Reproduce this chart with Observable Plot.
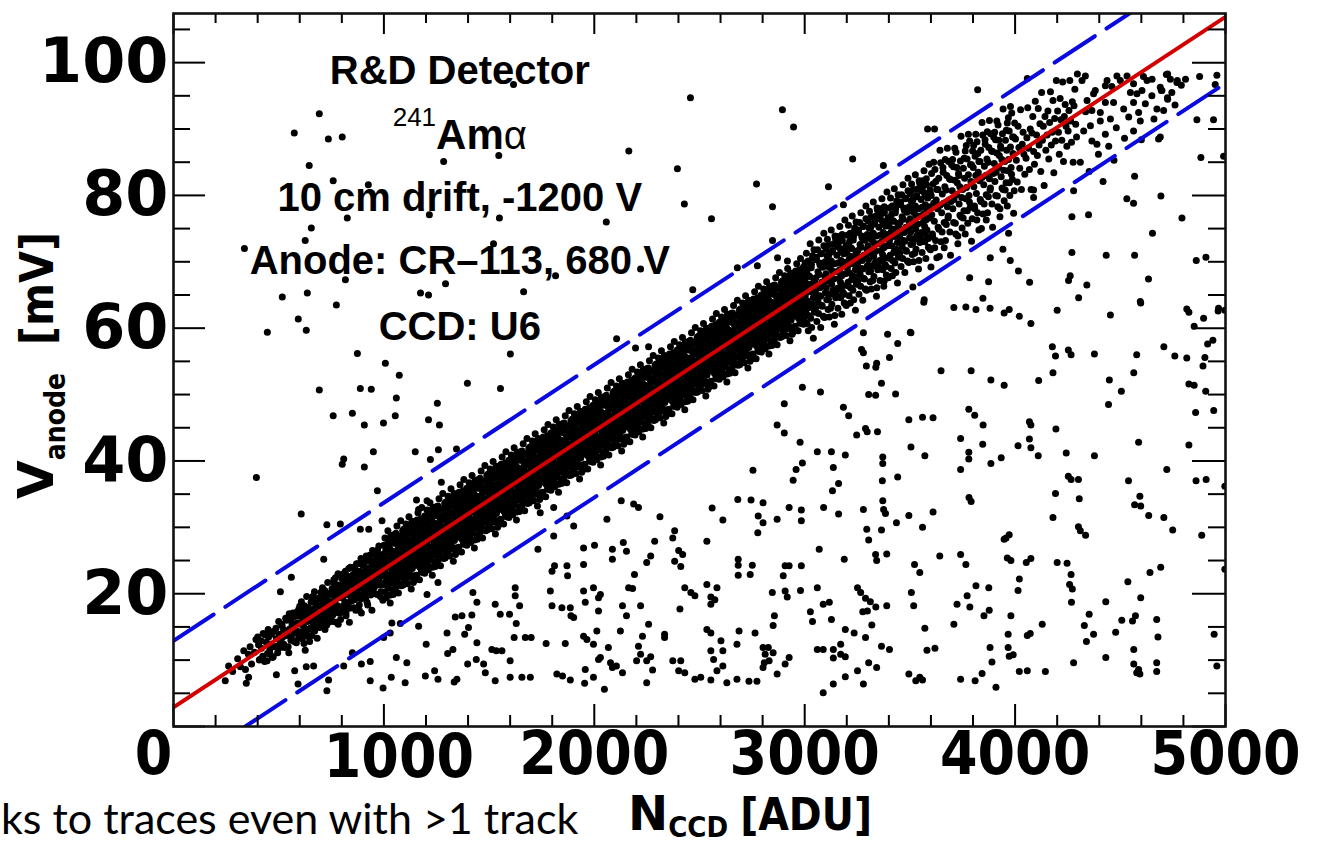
<!DOCTYPE html>
<html><head><meta charset="utf-8">
<script src="https://cdn.jsdelivr.net/npm/d3@7"></script>
<script src="https://cdn.jsdelivr.net/npm/@observablehq/plot@0.6"></script>
<style>
html,body{margin:0;padding:0;background:#fff;overflow:hidden;}
#chart{position:relative;width:1318px;height:845px;}
</style></head><body><div id="chart"></div>
<script>
// ---- data ----
const xTickValues = [0, 1000, 2000, 3000, 4000, 5000];
const yTickValues = [20, 40, 60, 80, 100];
const fit = {intercept: 2.9, slope: 0.0208, halfWidth: 10};
const annotationText = ["R&D Detector", "241", "Am", "\u03b1", "10 cm drift, -1200 V", "Anode: CR\u2013113, 680 V", "CCD: U6"];
const xTitle = ["N", "CCD", "[ADU]"];
const yTitle = ["V", "anode", "[mV]"];
const slideText = "ks to traces even with >1 track";

// main band of events (N_CCD [ADU], V_anode [mV])
const bandLow = [
[262,9.1],[281,8.3],[305,10.2],[318,9.0],[334,11.4],[342,8.6],[356,10.9],[364,12.0],[371,9.4],[385,11.2],[392,13.1],[404,12.3],[410,10.1],[418,11.8],[426,14.0],[433,9.8],[441,12.7],[447,11.0],[452,13.5],[458,11.6],[463,12.4],[470,10.4],[476,14.3],[482,12.0],[489,13.2],[495,11.1],
[503,13.9],[508,12.8],[513,15.4],[518,13.4],[523,14.6],[528,11.9],[533,16.3],[538,13.7],[543,14.4],[548,11.1],
[552,14.7],[556,16.0],[560,13.4],[564,15.4],[568,17.1],[572,14.1],[576,14.8],[580,16.6],[584,12.6],[588,15.6],[592,14.3],[596,17.7],
[601,16.6],[605,15.4],[608,14.2],[612,17.3],[615,16.1],[619,15.0],[622,18.2],[626,13.8],[629,16.3],[633,17.0],[636,15.8],[640,14.6],[643,17.7],[647,12.8],
[651,16.1],[654,17.3],[658,18.9],[661,16.7],[664,15.5],[668,17.7],[671,14.4],[674,17.5],[678,18.4],[681,16.5],[684,15.8],[688,19.3],[691,16.9],[694,14.9],[698,18.2],
[701,18.1],[704,17.0],[707,19.6],[710,17.6],[713,18.8],[716,16.1],[719,20.5],[722,17.9],[725,18.6],[728,15.3],[731,19.2],[734,17.3],[737,18.4],[740,20.0],[743,16.5],[746,17.7],
[751,18.7],[754,20.6],[757,16.8],[760,19.7],[762,22.1],[765,17.9],[768,18.9],[771,21.4],[774,15.7],[777,20.0],[779,18.2],[782,23.0],[785,17.1],[788,19.4],[791,20.9],[794,16.1],[797,19.8],
[801,21.1],[804,19.4],[806,17.7],[809,22.1],[812,20.4],[814,18.8],[817,23.4],[820,17.1],[822,20.7],[825,21.6],[828,19.9],[830,18.3],[833,22.6],[836,15.7],[838,20.2],[841,24.0],[844,19.2],[847,21.3],
[851,20.0],[853,21.6],[856,24.0],[858,20.8],[861,19.1],[863,22.3],[866,17.5],[868,22.0],[871,23.3],[873,20.5],[876,19.5],[878,24.5],[881,21.1],[883,18.3],[886,22.9],[888,21.0],[891,25.3],[893,17.1],[896,21.8],
[901,22.3],[903,20.7],[906,24.4],[908,21.5],[911,23.2],[913,19.4],[916,25.7],[918,21.9],[921,23.0],[923,18.3],[926,23.8],[928,21.1],[931,22.6],[933,24.9],[936,20.0],[938,21.7],[941,23.5],[943,17.5],[946,26.5],[948,20.4],
[951,22.9],[953,24.8],[955,21.0],[958,23.9],[960,26.3],[962,22.1],[965,23.1],[967,25.6],[969,19.9],[972,24.2],[974,22.4],[976,27.2],[979,21.3],[981,23.6],[983,25.1],[986,20.3],[988,24.0],[990,22.7],[993,25.9],[995,19.0],[998,24.5]
];
const bandMid = [
[1002,25.2],[1004,23.5],[1007,21.8],[1009,26.2],[1011,24.5],[1013,22.9],[1016,27.5],[1018,21.2],[1020,24.8],[1022,25.7],[1025,24.0],[1027,22.4],[1029,26.7],[1031,19.8],[1034,24.3],[1036,28.1],[1038,23.3],[1040,25.4],[1043,21.6],[1045,25.0],[1047,23.8],[1049,28.9],
[1051,24.2],[1053,25.8],[1056,28.2],[1058,25.0],[1060,23.3],[1064,26.5],[1065,21.7],[1067,26.2],[1071,27.5],[1073,24.7],[1074,23.7],[1076,28.7],[1080,25.3],[1082,22.5],[1083,27.1],[1087,25.2],[1089,29.5],[1091,21.3],[1092,26.0],[1094,24.1],[1096,27.9],[1098,26.8],
[1102,26.5],[1104,24.9],[1107,28.6],[1109,25.7],[1111,27.4],[1113,23.6],[1116,29.9],[1118,26.1],[1120,27.2],[1122,22.5],[1125,28.0],[1127,25.3],[1129,26.8],[1131,29.1],[1134,24.2],[1136,25.9],[1138,27.7],[1140,21.7],[1143,30.7],[1145,24.6],[1147,26.3],[1149,28.3],
[1151,27.0],[1153,28.9],[1156,25.1],[1158,28.0],[1160,30.4],[1164,26.2],[1165,27.2],[1167,29.7],[1171,24.0],[1173,28.3],[1174,26.5],[1176,31.3],[1180,25.4],[1182,27.7],[1183,29.2],[1187,24.4],[1189,28.1],[1191,26.8],[1192,30.0],[1194,23.1],[1196,28.6],[1198,25.8],
[1202,29.4],[1204,27.7],[1207,26.0],[1209,30.4],[1211,28.7],[1213,27.1],[1216,31.7],[1218,25.4],[1220,29.0],[1222,29.9],[1225,28.2],[1227,26.6],[1229,30.9],[1231,24.0],[1234,28.5],[1236,32.3],[1238,27.5],[1240,29.6],[1243,25.8],[1245,29.2],[1247,28.0],[1249,33.1],
[1251,28.3],[1253,29.9],[1256,32.3],[1258,29.1],[1260,27.4],[1264,30.6],[1265,25.8],[1267,30.3],[1271,31.6],[1273,28.8],[1274,27.8],[1276,32.8],[1280,29.4],[1282,26.6],[1283,31.2],[1287,29.3],[1289,33.6],[1291,25.4],[1292,30.1],[1294,28.2],[1296,32.0],[1298,30.9],
[1302,30.7],[1304,29.1],[1307,32.8],[1309,29.9],[1311,31.6],[1313,27.8],[1316,34.1],[1318,30.3],[1320,31.4],[1322,26.7],[1325,32.2],[1327,29.5],[1329,31.0],[1331,33.3],[1334,28.4],[1336,30.1],[1338,31.9],[1340,25.9],[1343,34.9],[1345,28.8],[1347,30.5],[1349,32.5],
[1351,31.2],[1353,33.1],[1356,29.3],[1358,32.2],[1360,34.6],[1364,30.4],[1365,31.4],[1367,33.9],[1371,28.2],[1373,32.5],[1374,30.7],[1376,35.5],[1380,29.6],[1382,31.9],[1383,33.4],[1387,28.6],[1389,32.3],[1391,31.0],[1392,34.2],[1394,27.3],[1396,32.8],[1398,30.0],
[1402,33.5],[1404,31.8],[1407,30.1],[1409,34.5],[1411,32.8],[1413,31.2],[1416,35.8],[1418,29.5],[1420,33.1],[1422,34.0],[1425,32.3],[1427,30.7],[1429,35.0],[1431,28.1],[1434,32.6],[1436,36.4],[1438,31.6],[1440,33.7],[1443,29.9],[1445,33.3],[1447,32.1],[1449,37.2],
[1451,32.5],[1453,34.1],[1456,36.5],[1458,33.3],[1460,31.6],[1464,34.8],[1465,30.0],[1467,34.5],[1471,35.8],[1473,33.0],[1474,32.0],[1476,37.0],[1480,33.6],[1482,30.8],[1483,35.4],[1487,33.5],[1489,37.8],[1491,29.6],[1492,34.3],[1494,32.4],[1496,36.2],[1498,35.1],
[1502,34.8],[1504,33.2],[1507,36.9],[1509,34.0],[1511,35.7],[1513,31.9],[1516,38.2],[1518,34.4],[1520,35.5],[1522,30.8],[1525,36.3],[1527,33.6],[1529,35.1],[1531,37.4],[1534,32.5],[1536,34.2],[1538,36.0],[1540,30.0],[1543,39.0],[1545,32.9],[1547,34.6],[1549,36.6],
[1551,35.4],[1553,37.3],[1556,33.5],[1558,36.4],[1560,38.8],[1564,34.6],[1565,35.6],[1567,38.1],[1571,32.4],[1573,36.7],[1574,34.9],[1576,39.7],[1580,33.8],[1582,36.1],[1583,37.6],[1587,32.8],[1589,36.5],[1591,35.2],[1592,38.4],[1594,31.5],[1596,37.0],[1598,34.2],
[1602,37.7],[1604,36.0],[1607,34.3],[1609,38.7],[1611,37.0],[1613,35.4],[1616,40.0],[1618,33.7],[1620,37.3],[1622,38.2],[1625,36.5],[1627,34.9],[1629,39.2],[1631,32.3],[1634,36.8],[1636,40.6],[1638,35.8],[1640,37.9],[1643,34.1],[1645,37.5],[1647,36.3],[1649,41.4],
[1651,36.6],[1653,38.2],[1656,40.6],[1658,37.4],[1660,35.7],[1664,38.9],[1665,34.1],[1667,38.6],[1671,39.9],[1673,37.1],[1674,36.1],[1676,41.1],[1680,37.7],[1682,34.9],[1683,39.5],[1687,37.6],[1689,41.9],[1691,33.7],[1692,38.4],[1694,36.5],[1696,40.3],[1698,39.2],
[1702,39.0],[1704,37.4],[1707,41.1],[1709,38.2],[1711,39.9],[1713,36.1],[1716,42.4],[1718,38.6],[1720,39.7],[1722,35.0],[1725,40.5],[1727,37.8],[1729,39.3],[1731,41.6],[1734,36.7],[1736,38.4],[1738,40.2],[1740,34.2],[1743,43.2],[1745,37.1],[1747,38.8],[1749,40.8],
[1751,39.5],[1753,41.4],[1756,37.6],[1758,40.5],[1760,42.9],[1764,38.7],[1765,39.7],[1767,42.2],[1771,36.5],[1773,40.8],[1774,39.0],[1776,43.8],[1780,37.9],[1782,40.2],[1783,41.7],[1787,36.9],[1789,40.6],[1791,39.3],[1792,42.5],[1794,35.6],[1796,41.1],[1798,38.3],
[1802,41.9],[1804,40.2],[1807,38.5],[1809,42.9],[1811,41.2],[1813,39.6],[1816,44.2],[1818,37.9],[1820,41.5],[1822,42.4],[1825,40.7],[1827,39.1],[1829,43.4],[1831,36.5],[1834,41.0],[1836,44.8],[1838,40.0],[1840,42.1],[1843,38.3],[1845,41.7],[1847,40.5],[1849,45.6],
[1851,40.8],[1853,42.4],[1856,44.8],[1858,41.6],[1860,39.9],[1864,43.1],[1865,38.3],[1867,42.8],[1871,44.1],[1873,41.3],[1874,40.3],[1876,45.3],[1880,41.9],[1882,39.1],[1883,43.7],[1887,41.8],[1889,46.1],[1891,37.9],[1892,42.6],[1894,40.7],[1896,44.5],[1898,43.4],
[1902,43.1],[1904,41.5],[1907,45.2],[1909,42.3],[1911,44.0],[1913,40.2],[1916,46.5],[1918,42.7],[1920,43.8],[1922,39.1],[1925,44.6],[1927,41.9],[1929,43.4],[1931,45.7],[1934,40.8],[1936,42.5],[1938,44.3],[1940,38.3],[1943,47.3],[1945,41.2],[1947,42.9],[1949,44.9],
[1951,43.7],[1953,45.6],[1956,41.8],[1958,44.7],[1960,47.1],[1964,42.9],[1965,43.9],[1967,46.4],[1971,40.7],[1973,45.0],[1974,43.2],[1976,48.0],[1980,42.1],[1982,44.4],[1983,45.9],[1987,41.1],[1989,44.8],[1991,43.5],[1992,46.7],[1994,39.8],[1996,45.3],[1998,42.5],
[2002,46.0],[2004,44.3],[2007,42.6],[2009,47.0],[2011,45.3],[2013,43.7],[2016,48.3],[2018,42.0],[2020,45.6],[2022,46.5],[2025,44.8],[2027,43.2],[2029,47.5],[2031,40.6],[2034,45.1],[2036,48.9],[2038,44.1],[2040,46.2],[2043,42.4],[2045,45.8],[2047,44.6],[2049,49.7],
[2051,45.0],[2053,46.6],[2056,49.0],[2058,45.8],[2060,44.1],[2064,47.3],[2065,42.5],[2067,47.0],[2071,48.3],[2073,45.5],[2074,44.5],[2076,49.5],[2080,46.1],[2082,43.3],[2083,47.9],[2087,46.0],[2089,50.3],[2091,42.1],[2092,46.8],[2094,44.9],[2096,48.7],[2098,47.6],
[2102,47.3],[2104,45.7],[2107,49.4],[2109,46.5],[2111,48.2],[2113,44.4],[2116,50.7],[2118,46.9],[2120,48.0],[2122,43.3],[2125,48.8],[2127,46.1],[2129,47.6],[2131,49.9],[2134,45.0],[2136,46.7],[2138,48.5],[2140,42.5],[2143,51.5],[2145,45.4],[2147,47.1],[2149,49.1],
[2151,47.8],[2153,49.7],[2156,45.9],[2158,48.8],[2160,51.2],[2164,47.0],[2165,48.0],[2167,50.5],[2171,44.8],[2173,49.1],[2174,47.3],[2176,52.1],[2180,46.2],[2182,48.5],[2183,50.0],[2187,45.2],[2189,48.9],[2191,47.6],[2192,50.8],[2194,43.9],[2196,49.4],[2198,46.6],
[2202,50.2],[2204,48.5],[2207,46.8],[2209,51.2],[2211,49.5],[2213,47.9],[2216,52.5],[2218,46.2],[2220,49.8],[2222,50.7],[2225,49.0],[2227,47.4],[2229,51.7],[2231,44.8],[2234,49.3],[2236,53.1],[2238,48.3],[2240,50.4],[2243,46.6],[2245,50.0],[2247,48.8],[2249,53.9],
[2251,49.1],[2253,50.7],[2256,53.1],[2258,49.9],[2260,48.2],[2264,51.4],[2265,46.6],[2267,51.1],[2271,52.4],[2273,49.6],[2274,48.6],[2276,53.6],[2280,50.2],[2282,47.4],[2283,52.0],[2287,50.1],[2289,54.4],[2291,46.2],[2292,50.9],[2294,49.0],[2296,52.8],[2298,51.7],
[2302,51.5],[2304,49.9],[2307,53.6],[2309,50.7],[2311,52.4],[2313,48.6],[2316,54.9],[2318,51.1],[2320,52.2],[2322,47.5],[2325,53.0],[2327,50.3],[2329,51.8],[2331,54.1],[2334,49.2],[2336,50.9],[2338,52.7],[2340,46.7],[2343,55.7],[2345,49.6],[2347,51.3],[2349,53.3],
[2351,52.0],[2353,53.9],[2356,50.1],[2358,53.0],[2360,55.4],[2364,51.2],[2365,52.2],[2367,54.7],[2371,49.0],[2373,53.3],[2374,51.5],[2376,56.3],[2380,50.4],[2382,52.7],[2383,54.2],[2387,49.4],[2389,53.1],[2391,51.8],[2392,55.0],[2394,48.1],[2396,53.6],[2398,50.8],
[2402,54.3],[2404,52.6],[2407,50.9],[2409,55.3],[2411,53.6],[2413,52.0],[2416,56.6],[2418,50.3],[2420,53.9],[2422,54.8],[2425,53.1],[2427,51.5],[2429,55.8],[2431,48.9],[2434,53.4],[2436,57.2],[2438,52.4],[2440,54.5],[2443,50.7],[2445,54.1],[2447,52.9],[2449,58.0],
[2451,53.3],[2453,54.9],[2456,57.3],[2458,54.1],[2460,52.4],[2464,55.6],[2465,50.8],[2467,55.3],[2471,56.6],[2473,53.8],[2474,52.8],[2476,57.8],[2480,54.4],[2482,51.6],[2483,56.2],[2487,54.3],[2489,58.6],[2491,50.4],[2492,55.1],[2494,53.2],[2496,57.0],[2498,55.9],
[2502,55.6],[2504,54.0],[2507,57.7],[2509,54.8],[2511,56.5],[2513,52.7],[2516,59.0],[2518,55.2],[2520,56.3],[2522,51.6],[2525,57.1],[2527,54.4],[2529,55.9],[2531,58.2],[2534,53.3],[2536,55.0],[2538,56.8],[2540,50.8],[2543,59.8],[2545,53.7],[2547,55.4],[2549,57.4],
[2551,56.2],[2553,58.1],[2556,54.3],[2558,57.2],[2560,59.6],[2564,55.4],[2565,56.4],[2567,58.9],[2571,53.2],[2573,57.5],[2574,55.7],[2576,60.5],[2580,54.6],[2582,56.9],[2583,58.4],[2587,53.6],[2589,57.3],[2591,56.0],[2592,59.2],[2594,52.3],[2596,57.8],[2598,55.0],
[2602,58.5],[2604,56.8],[2607,55.1],[2609,59.5],[2611,57.8],[2613,56.2],[2616,60.8],[2618,54.5],[2620,58.1],[2622,59.0],[2625,57.3],[2627,55.7],[2629,60.0],[2631,53.1],[2634,57.6],[2636,61.4],[2638,56.6],[2640,58.7],[2643,54.9],[2645,58.3],[2647,57.1],[2649,62.2],
[2651,57.4],[2653,59.0],[2656,61.4],[2658,58.2],[2660,56.5],[2664,59.7],[2665,54.9],[2667,59.4],[2671,60.7],[2673,57.9],[2674,56.9],[2676,61.9],[2680,58.5],[2682,55.7],[2683,60.3],[2687,58.4],[2689,62.7],[2691,54.5],[2692,59.2],[2694,57.3],[2696,61.1],[2698,60.0],
[2702,59.8],[2704,58.2],[2707,61.9],[2709,59.0],[2711,60.7],[2713,56.9],[2716,63.2],[2718,59.4],[2720,60.5],[2722,55.8],[2725,61.3],[2727,58.6],[2729,60.1],[2731,62.4],[2734,57.5],[2736,59.2],[2738,61.0],[2740,55.0],[2743,64.0],[2745,57.9],[2747,59.6],[2749,61.6],
[2751,60.3],[2753,62.2],[2756,58.4],[2758,61.3],[2760,63.7],[2764,59.5],[2765,60.5],[2767,63.0],[2771,57.3],[2773,61.6],[2774,59.8],[2776,64.6],[2780,58.7],[2782,61.0],[2783,62.5],[2787,57.7],[2789,61.4],[2791,60.1],[2792,63.3],[2794,56.4],[2796,61.9],[2798,59.1],
[2802,62.7],[2804,61.0],[2807,59.3],[2809,63.7],[2811,62.0],[2813,60.4],[2816,65.0],[2818,58.7],[2820,62.3],[2822,63.2],[2825,61.5],[2827,59.9],[2829,64.2],[2831,57.3],[2834,61.8],[2836,65.6],[2838,60.8],[2840,62.9],[2843,59.1],[2845,62.5],[2847,61.3],[2849,66.4],
[2851,61.6],[2853,63.2],[2856,65.6],[2858,62.4],[2860,60.7],[2864,63.9],[2865,59.1],[2867,63.6],[2871,64.9],[2873,62.1],[2874,61.1],[2876,66.1],[2880,62.7],[2882,59.9],[2883,64.5],[2887,62.6],[2889,66.9],[2891,58.7],[2892,63.4],[2894,61.5],[2896,65.3],[2898,64.2],
[2902,63.9],[2904,62.3],[2907,66.0],[2909,63.1],[2911,64.8],[2913,61.0],[2916,67.3],[2918,63.5],[2920,64.6],[2922,59.9],[2925,65.4],[2927,62.7],[2929,64.2],[2931,66.5],[2934,61.6],[2936,63.3],[2938,65.1],[2940,59.1],[2943,68.1],[2945,62.0],[2947,63.7],[2949,65.7],
[2951,64.5],[2953,66.4],[2956,62.6],[2958,65.5],[2960,67.9],[2964,63.7],[2965,64.7],[2967,67.2],[2971,61.5],[2973,65.8],[2974,64.0],[2976,68.8],[2980,62.9],[2982,65.2],[2983,66.7],[2987,61.9],[2989,65.6],[2991,64.3],[2992,67.5],[2994,60.6],[2996,66.1],[2998,63.3]
];
// wider spread of the band (second set of events)
const bandSpread = [
[400,13.5],[408,10.0],[416,12.9],[424,10.6],[437,13.8],[445,9.9],[450,14.6],[458,11.0],[466,13.9],[474,10.5],[487,14.8],[495,12.1],
[500,15.8],[508,11.9],[516,15.2],[524,12.4],[537,16.0],[545,12.0],[550,17.0],[558,13.0],[566,16.4],[574,12.8],[587,17.3],[595,13.4],
[600,18.1],[604,13.9],[608,18.8],[612,13.2],[616,17.6],[620,12.5],[625,17.0],[629,14.4],[633,19.6],[637,13.6],[641,17.9],[645,14.7],
[650,14.8],[654,18.7],[658,13.7],[662,19.6],[666,15.3],[670,20.3],[675,15.8],[679,18.3],[683,13.3],[687,19.2],[691,15.0],[695,18.2],
[700,20.2],[704,16.0],[708,20.9],[712,15.3],[716,19.7],[720,14.6],[725,19.1],[729,16.5],[733,21.7],[737,15.7],[741,20.0],[745,16.8],
[750,16.9],[754,20.8],[758,15.8],[762,21.7],[766,17.4],[770,22.4],[775,17.9],[779,20.4],[783,15.4],[787,21.3],[791,17.1],[795,20.3],
[800,22.3],[804,18.1],[808,23.0],[812,17.4],[816,21.8],[820,16.7],[825,21.2],[829,18.6],[833,23.8],[837,17.8],[841,22.1],[845,18.9],
[850,19.0],[854,22.9],[858,17.9],[862,23.8],[866,19.5],[870,24.5],[875,20.0],[879,22.5],[883,17.5],[887,23.4],[891,19.2],[895,22.4],
[900,24.3],[904,20.1],[908,25.0],[912,19.4],[916,23.8],[920,18.7],[925,23.2],[929,20.6],[933,25.8],[937,19.8],[941,24.1],[945,20.9],
[950,21.1],[954,25.0],[958,20.0],[962,25.9],[966,21.6],[970,26.6],[975,22.1],[979,24.6],[983,19.6],[987,25.5],[991,21.3],[995,24.5],
[1000,27.3],[1002,21.4],[1005,28.4],[1007,20.3],[1009,26.6],[1012,19.4],[1014,25.8],[1016,22.1],[1019,29.5],[1021,20.9],[1023,27.1],[1026,22.5],[1028,27.9],[1030,18.6],[1033,28.8],[1035,21.7],[1037,25.4],[1040,20.6],[1042,26.4],[1044,19.9],[1047,27.6],[1049,22.8],
[1050,22.3],[1052,27.9],[1055,20.8],[1057,29.1],[1059,23.0],[1062,30.2],[1064,23.8],[1066,27.3],[1069,20.1],[1071,28.6],[1073,22.6],[1076,27.1],[1078,21.4],[1080,31.0],[1083,21.2],[1085,27.7],[1087,24.2],[1090,28.8],[1092,23.2],[1094,29.7],[1097,21.8],[1099,26.6],
[1100,29.4],[1102,23.5],[1105,30.5],[1107,22.4],[1109,28.7],[1112,21.5],[1114,27.9],[1116,24.2],[1119,31.6],[1121,23.0],[1123,29.2],[1126,24.6],[1128,30.0],[1130,20.7],[1133,30.9],[1135,23.8],[1137,27.5],[1140,22.7],[1142,28.5],[1144,22.0],[1147,29.7],[1149,24.9],
[1150,24.3],[1152,29.9],[1155,22.8],[1157,31.1],[1159,25.0],[1162,32.2],[1164,25.8],[1166,29.3],[1169,22.1],[1171,30.6],[1173,24.6],[1176,29.1],[1178,23.4],[1180,33.0],[1183,23.2],[1185,29.7],[1187,26.2],[1190,30.8],[1192,25.2],[1194,31.7],[1197,23.8],[1199,28.6],
[1200,31.5],[1202,25.6],[1205,32.6],[1207,24.5],[1209,30.8],[1212,23.6],[1214,30.0],[1216,26.3],[1219,33.7],[1221,25.1],[1223,31.3],[1226,26.7],[1228,32.1],[1230,22.8],[1233,33.0],[1235,25.9],[1237,29.6],[1240,24.8],[1242,30.6],[1244,24.1],[1247,31.8],[1249,27.0],
[1250,26.4],[1252,32.0],[1255,24.9],[1257,33.2],[1259,27.1],[1262,34.3],[1264,27.9],[1266,31.4],[1269,24.2],[1271,32.7],[1273,26.7],[1276,31.2],[1278,25.5],[1280,35.1],[1283,25.3],[1285,31.8],[1287,28.3],[1290,32.9],[1292,27.3],[1294,33.8],[1297,25.9],[1299,30.7],
[1300,33.6],[1302,27.7],[1305,34.7],[1307,26.6],[1309,32.9],[1312,25.7],[1314,32.1],[1316,28.4],[1319,35.8],[1321,27.2],[1323,33.4],[1326,28.8],[1328,34.2],[1330,24.9],[1333,35.1],[1335,28.0],[1337,31.7],[1340,26.9],[1342,32.7],[1344,26.2],[1347,33.9],[1349,29.1],
[1350,28.5],[1352,34.1],[1355,27.0],[1357,35.3],[1359,29.2],[1362,36.4],[1364,30.0],[1366,33.5],[1369,26.3],[1371,34.8],[1373,28.8],[1376,33.3],[1378,27.6],[1380,37.2],[1383,27.4],[1385,33.9],[1387,30.4],[1390,35.0],[1392,29.4],[1394,35.9],[1397,28.0],[1399,32.8],
[1400,35.6],[1402,29.7],[1405,36.7],[1407,28.6],[1409,34.9],[1412,27.7],[1414,34.1],[1416,30.4],[1419,37.8],[1421,29.2],[1423,35.4],[1426,30.8],[1428,36.2],[1430,26.9],[1433,37.1],[1435,30.0],[1437,33.7],[1440,28.9],[1442,34.7],[1444,28.2],[1447,35.9],[1449,31.1],
[1450,30.6],[1452,36.2],[1455,29.1],[1457,37.4],[1459,31.3],[1462,38.5],[1464,32.1],[1466,35.6],[1469,28.4],[1471,36.9],[1473,30.9],[1476,35.4],[1478,29.7],[1480,39.3],[1483,29.5],[1485,36.0],[1487,32.5],[1490,37.1],[1492,31.5],[1494,38.0],[1497,30.1],[1499,34.9],
[1500,37.7],[1502,31.8],[1505,38.8],[1507,30.7],[1509,37.0],[1512,29.8],[1514,36.2],[1516,32.5],[1519,39.9],[1521,31.3],[1523,37.5],[1526,32.9],[1528,38.3],[1530,29.0],[1533,39.2],[1535,32.1],[1537,35.8],[1540,31.0],[1542,36.8],[1544,30.3],[1547,38.0],[1549,33.2],
[1550,32.7],[1552,38.3],[1555,31.2],[1557,39.5],[1559,33.4],[1562,40.6],[1564,34.2],[1566,37.7],[1569,30.5],[1571,39.0],[1573,33.0],[1576,37.5],[1578,31.8],[1580,41.4],[1583,31.6],[1585,38.1],[1587,34.6],[1590,39.2],[1592,33.6],[1594,40.1],[1597,32.2],[1599,37.0],
[1600,39.8],[1602,33.9],[1605,40.9],[1607,32.8],[1609,39.1],[1612,31.9],[1614,38.3],[1616,34.6],[1619,42.0],[1621,33.4],[1623,39.6],[1626,35.0],[1628,40.4],[1630,31.1],[1633,41.3],[1635,34.2],[1637,37.9],[1640,33.1],[1642,38.9],[1644,32.4],[1647,40.1],[1649,35.3],
[1650,34.7],[1652,40.3],[1655,33.2],[1657,41.5],[1659,35.4],[1662,42.6],[1664,36.2],[1666,39.7],[1669,32.5],[1671,41.0],[1673,35.0],[1676,39.5],[1678,33.8],[1680,43.4],[1683,33.6],[1685,40.1],[1687,36.6],[1690,41.2],[1692,35.6],[1694,42.1],[1697,34.2],[1699,39.0],
[1700,41.9],[1702,36.0],[1705,43.0],[1707,34.9],[1709,41.2],[1712,34.0],[1714,40.4],[1716,36.7],[1719,44.1],[1721,35.5],[1723,41.7],[1726,37.1],[1728,42.5],[1730,33.2],[1733,43.4],[1735,36.3],[1737,40.0],[1740,35.2],[1742,41.0],[1744,34.5],[1747,42.2],[1749,37.4],
[1750,36.8],[1752,42.4],[1755,35.3],[1757,43.6],[1759,37.5],[1762,44.7],[1764,38.3],[1766,41.8],[1769,34.6],[1771,43.1],[1773,37.1],[1776,41.6],[1778,35.9],[1780,45.5],[1783,35.7],[1785,42.2],[1787,38.7],[1790,43.3],[1792,37.7],[1794,44.2],[1797,36.3],[1799,41.1],
[1800,44.0],[1802,38.1],[1805,45.1],[1807,37.0],[1809,43.3],[1812,36.1],[1814,42.5],[1816,38.8],[1819,46.2],[1821,37.6],[1823,43.8],[1826,39.2],[1828,44.6],[1830,35.3],[1833,45.5],[1835,38.4],[1837,42.1],[1840,37.3],[1842,43.1],[1844,36.6],[1847,44.3],[1849,39.5],
[1850,38.9],[1852,44.5],[1855,37.4],[1857,45.7],[1859,39.6],[1862,46.8],[1864,40.4],[1866,43.9],[1869,36.7],[1871,45.2],[1873,39.2],[1876,43.7],[1878,38.0],[1880,47.6],[1883,37.8],[1885,44.3],[1887,40.8],[1890,45.4],[1892,39.8],[1894,46.3],[1897,38.4],[1899,43.2],
[1900,46.0],[1902,40.1],[1905,47.1],[1907,39.0],[1909,45.3],[1912,38.1],[1914,44.5],[1916,40.8],[1919,48.2],[1921,39.6],[1923,45.8],[1926,41.2],[1928,46.6],[1930,37.3],[1933,47.5],[1935,40.4],[1937,44.1],[1940,39.3],[1942,45.1],[1944,38.6],[1947,46.3],[1949,41.5],
[1950,41.0],[1952,46.6],[1955,39.5],[1957,47.8],[1959,41.7],[1962,48.9],[1964,42.5],[1966,46.0],[1969,38.8],[1971,47.3],[1973,41.3],[1976,45.8],[1978,40.1],[1980,49.7],[1983,39.9],[1985,46.4],[1987,42.9],[1990,47.5],[1992,41.9],[1994,48.4],[1997,40.5],[1999,45.3],
[2000,48.1],[2002,42.2],[2005,49.2],[2007,41.1],[2009,47.4],[2012,40.2],[2014,46.6],[2016,42.9],[2019,50.3],[2021,41.7],[2023,47.9],[2026,43.3],[2028,48.7],[2030,39.4],[2033,49.6],[2035,42.5],[2037,46.2],[2040,41.4],[2042,47.2],[2044,40.7],[2047,48.4],[2049,43.6],
[2050,43.1],[2052,48.7],[2055,41.6],[2057,49.9],[2059,43.8],[2062,51.0],[2064,44.6],[2066,48.1],[2069,40.9],[2071,49.4],[2073,43.4],[2076,47.9],[2078,42.2],[2080,51.8],[2083,42.0],[2085,48.5],[2087,45.0],[2090,49.6],[2092,44.0],[2094,50.5],[2097,42.6],[2099,47.4],
[2100,50.2],[2102,44.3],[2105,51.3],[2107,43.2],[2109,49.5],[2112,42.3],[2114,48.7],[2116,45.0],[2119,52.4],[2121,43.8],[2123,50.0],[2126,45.4],[2128,50.8],[2130,41.5],[2133,51.7],[2135,44.6],[2137,48.3],[2140,43.5],[2142,49.3],[2144,42.8],[2147,50.5],[2149,45.7],
[2150,45.1],[2152,50.7],[2155,43.6],[2157,51.9],[2159,45.8],[2162,53.0],[2164,46.6],[2166,50.1],[2169,42.9],[2171,51.4],[2173,45.4],[2176,49.9],[2178,44.2],[2180,53.8],[2183,44.0],[2185,50.5],[2187,47.0],[2190,51.6],[2192,46.0],[2194,52.5],[2197,44.6],[2199,49.4],
[2200,52.3],[2202,46.4],[2205,53.4],[2207,45.3],[2209,51.6],[2212,44.4],[2214,50.8],[2216,47.1],[2219,54.5],[2221,45.9],[2223,52.1],[2226,47.5],[2228,52.9],[2230,43.6],[2233,53.8],[2235,46.7],[2237,50.4],[2240,45.6],[2242,51.4],[2244,44.9],[2247,52.6],[2249,47.8],
[2250,47.2],[2252,52.8],[2255,45.7],[2257,54.0],[2259,47.9],[2262,55.1],[2264,48.7],[2266,52.2],[2269,45.0],[2271,53.5],[2273,47.5],[2276,52.0],[2278,46.3],[2280,55.9],[2283,46.1],[2285,52.6],[2287,49.1],[2290,53.7],[2292,48.1],[2294,54.6],[2297,46.7],[2299,51.5],
[2300,54.4],[2302,48.5],[2305,55.5],[2307,47.4],[2309,53.7],[2312,46.5],[2314,52.9],[2316,49.2],[2319,56.6],[2321,48.0],[2323,54.2],[2326,49.6],[2328,55.0],[2330,45.7],[2333,55.9],[2335,48.8],[2337,52.5],[2340,47.7],[2342,53.5],[2344,47.0],[2347,54.7],[2349,49.9],
[2350,49.3],[2352,54.9],[2355,47.8],[2357,56.1],[2359,50.0],[2362,57.2],[2364,50.8],[2366,54.3],[2369,47.1],[2371,55.6],[2373,49.6],[2376,54.1],[2378,48.4],[2380,58.0],[2383,48.2],[2385,54.7],[2387,51.2],[2390,55.8],[2392,50.2],[2394,56.7],[2397,48.8],[2399,53.6],
[2400,56.4],[2402,50.5],[2405,57.5],[2407,49.4],[2409,55.7],[2412,48.5],[2414,54.9],[2416,51.2],[2419,58.6],[2421,50.0],[2423,56.2],[2426,51.6],[2428,57.0],[2430,47.7],[2433,57.9],[2435,50.8],[2437,54.5],[2440,49.7],[2442,55.5],[2444,49.0],[2447,56.7],[2449,51.9],
[2450,51.4],[2452,57.0],[2455,49.9],[2457,58.2],[2459,52.1],[2462,59.3],[2464,52.9],[2466,56.4],[2469,49.2],[2471,57.7],[2473,51.7],[2476,56.2],[2478,50.5],[2480,60.1],[2483,50.3],[2485,56.8],[2487,53.3],[2490,57.9],[2492,52.3],[2494,58.8],[2497,50.9],[2499,55.7],
[2500,58.5],[2502,52.6],[2505,59.6],[2507,51.5],[2509,57.8],[2512,50.6],[2514,57.0],[2516,53.3],[2519,60.7],[2521,52.1],[2523,58.3],[2526,53.7],[2528,59.1],[2530,49.8],[2533,60.0],[2535,52.9],[2537,56.6],[2540,51.8],[2542,57.6],[2544,51.1],[2547,58.8],[2549,54.0],
[2550,53.5],[2552,59.1],[2555,52.0],[2557,60.3],[2559,54.2],[2562,61.4],[2564,55.0],[2566,58.5],[2569,51.3],[2571,59.8],[2573,53.8],[2576,58.3],[2578,52.6],[2580,62.2],[2583,52.4],[2585,58.9],[2587,55.4],[2590,60.0],[2592,54.4],[2594,60.9],[2597,53.0],[2599,57.8],
[2600,60.6],[2602,54.7],[2605,61.7],[2607,53.6],[2609,59.9],[2612,52.7],[2614,59.1],[2616,55.4],[2619,62.8],[2621,54.2],[2623,60.4],[2626,55.8],[2628,61.2],[2630,51.9],[2633,62.1],[2635,55.0],[2637,58.7],[2640,53.9],[2642,59.7],[2644,53.2],[2647,60.9],[2649,56.1],
[2650,55.5],[2652,61.1],[2655,54.0],[2657,62.3],[2659,56.2],[2662,63.4],[2664,57.0],[2666,60.5],[2669,53.3],[2671,61.8],[2673,55.8],[2676,60.3],[2678,54.6],[2680,64.2],[2683,54.4],[2685,60.9],[2687,57.4],[2690,62.0],[2692,56.4],[2694,62.9],[2697,55.0],[2699,59.8],
[2700,62.7],[2702,56.8],[2705,63.8],[2707,55.7],[2709,62.0],[2712,54.8],[2714,61.2],[2716,57.5],[2719,64.9],[2721,56.3],[2723,62.5],[2726,57.9],[2728,63.3],[2730,54.0],[2733,64.2],[2735,57.1],[2737,60.8],[2740,56.0],[2742,61.8],[2744,55.3],[2747,63.0],[2749,58.2],
[2750,57.6],[2752,63.2],[2755,56.1],[2757,64.4],[2759,58.3],[2762,65.5],[2764,59.1],[2766,62.6],[2769,55.4],[2771,63.9],[2773,57.9],[2776,62.4],[2778,56.7],[2780,66.3],[2783,56.5],[2785,63.0],[2787,59.5],[2790,64.1],[2792,58.5],[2794,65.0],[2797,57.1],[2799,61.9],
[2800,64.8],[2802,58.9],[2805,65.9],[2807,57.8],[2809,64.1],[2812,56.9],[2814,63.3],[2816,59.6],[2819,67.0],[2821,58.4],[2823,64.6],[2826,60.0],[2828,65.4],[2830,56.1],[2833,66.3],[2835,59.2],[2837,62.9],[2840,58.1],[2842,63.9],[2844,57.4],[2847,65.1],[2849,60.3],
[2850,59.7],[2852,65.3],[2855,58.2],[2857,66.5],[2859,60.4],[2862,67.6],[2864,61.2],[2866,64.7],[2869,57.5],[2871,66.0],[2873,60.0],[2876,64.5],[2878,58.8],[2880,68.4],[2883,58.6],[2885,65.1],[2887,61.6],[2890,66.2],[2892,60.6],[2894,67.1],[2897,59.2],[2899,64.0],
[2900,66.8],[2902,60.9],[2905,67.9],[2907,59.8],[2909,66.1],[2912,58.9],[2914,65.3],[2916,61.6],[2919,69.0],[2921,60.4],[2923,66.6],[2926,62.0],[2928,67.4],[2930,58.1],[2933,68.3],[2935,61.2],[2937,64.9],[2940,60.1],[2942,65.9],[2944,59.4],[2947,67.1],[2949,62.3],
[2950,61.8],[2952,67.4],[2955,60.3],[2957,68.6],[2959,62.5],[2962,69.7],[2964,63.3],[2966,66.8],[2969,59.6],[2971,68.1],[2973,62.1],[2976,66.6],[2978,60.9],[2980,70.5],[2983,60.7],[2985,67.2],[2987,63.7],[2990,68.3],[2992,62.7],[2994,69.2],[2997,61.3],[2999,66.1],
[3002,69.8],[3005,62.2],[3008,71.3],[3011,60.7],[3014,68.9],[3017,59.6],[3020,67.9],[3023,63.1],[3026,72.7],[3029,61.5],[3032,69.6],[3035,63.6],[3038,70.6],[3041,58.5],[3044,71.8],[3047,62.5],
[3052,63.0],[3055,70.3],[3058,61.0],[3061,71.8],[3064,63.9],[3067,73.3],[3070,64.9],[3073,69.5],[3076,60.1],[3079,71.2],[3082,63.4],[3085,69.2],[3088,61.8],[3091,74.3],[3094,61.6],[3097,70.0],
[3102,71.9],[3105,64.3],[3108,73.4],[3111,62.8],[3114,71.0],[3117,61.7],[3120,70.0],[3123,65.2],[3126,74.8],[3129,63.6],[3132,71.7],[3135,65.7],[3138,72.7],[3141,60.6],[3144,73.9],[3147,64.6],
[3152,65.0],[3155,72.3],[3158,63.0],[3161,73.8],[3164,65.9],[3167,75.3],[3170,66.9],[3173,71.5],[3176,62.1],[3179,73.2],[3182,65.4],[3185,71.2],[3188,63.8],[3191,76.3],[3194,63.6],[3197,72.0],
[3202,74.0],[3205,66.4],[3208,75.5],[3211,64.9],[3214,73.1],[3217,63.8],[3220,72.1],[3223,67.3],[3226,76.9],[3229,65.7],[3232,73.8],[3235,67.8],[3238,74.8],[3241,62.7],[3244,76.0],[3247,66.7],
[3252,67.1],[3255,74.4],[3258,65.1],[3261,75.9],[3264,68.0],[3267,77.4],[3270,69.0],[3273,73.6],[3276,64.2],[3279,75.3],[3282,67.5],[3285,73.3],[3288,65.9],[3291,78.4],[3294,65.7],[3297,74.1],
[3302,76.1],[3305,68.5],[3308,77.6],[3311,67.0],[3314,75.2],[3317,65.9],[3320,74.2],[3323,69.4],[3326,79.0],[3329,67.8],[3332,75.9],[3335,69.9],[3338,76.9],[3341,64.8],[3344,78.1],[3347,68.8],
[3352,69.2],[3355,76.5],[3358,67.2],[3361,78.0],[3364,70.1],[3367,79.5],[3370,71.1],[3373,75.7],[3376,66.3],[3379,77.4],[3382,69.6],[3385,75.4],[3388,68.0],[3391,80.5],[3394,67.8],[3397,76.2],
[3402,78.1],[3405,70.5],[3408,79.6],[3411,69.0],[3414,77.2],[3417,67.9],[3420,76.2],[3423,71.4],[3426,81.0],[3429,69.8],[3432,77.9],[3435,71.9],[3438,78.9],[3441,66.8],[3444,80.1],[3447,70.8],
[3452,71.3],[3455,78.6],[3458,69.3],[3461,80.1],[3464,72.2],[3467,81.6],[3470,73.2],[3473,77.8],[3476,68.4],[3479,79.5],[3482,71.7],[3485,77.5],[3488,70.1],[3491,82.6],[3494,69.9],[3497,78.3],
[3502,80.2],[3505,72.6],[3508,81.7],[3511,71.1],[3514,79.3],[3517,70.0],[3520,78.3],[3523,73.5],[3526,83.1],[3529,71.9],[3532,80.0],[3535,74.0],[3538,81.0],[3541,68.9],[3544,82.2],[3547,72.9],
[3552,73.4],[3555,80.7],[3558,71.4],[3561,82.2],[3564,74.3],[3567,83.7],[3570,75.3],[3573,79.9],[3576,70.5],[3579,81.6],[3582,73.8],[3585,79.6],[3588,72.2],[3591,84.7],[3594,72.0],[3597,80.4],
[3603,83.3],[3608,73.8],[3613,85.0],[3618,72.1],[3623,82.1],[3628,70.6],[3633,80.9],[3638,74.9],[3643,86.8],[3648,73.0],
[3653,74.5],[3658,83.5],[3663,72.1],[3668,85.4],[3673,75.6],[3678,87.1],[3683,76.9],[3688,82.5],[3693,71.0],[3698,84.6],
[3703,85.4],[3708,75.9],[3713,87.1],[3718,74.2],[3723,84.2],[3728,72.7],[3733,83.0],[3738,77.0],[3743,88.9],[3748,75.1],
[3753,76.6],[3758,85.6],[3763,74.2],[3768,87.5],[3773,77.7],[3778,89.2],[3783,79.0],[3788,84.6],[3793,73.1],[3798,86.7],
[3803,87.5],[3808,78.0],[3813,89.2],[3818,76.3],[3823,86.3],[3828,74.8],[3833,85.1],[3838,79.1],[3843,91.0],[3848,77.2],
[3853,78.7],[3858,87.7],[3863,76.3],[3868,89.6],[3873,79.8],[3878,91.3],[3883,81.1],[3888,86.7],[3893,75.2],[3898,88.8],
[3903,89.5],[3908,80.0],[3913,91.2],[3918,78.3],[3923,88.3],[3928,76.8],[3933,87.1],[3938,81.1],[3943,93.0],[3948,79.2],
[3953,80.8],[3958,89.8],[3963,78.4],[3968,91.7],[3973,81.9],[3978,93.4],[3983,83.2],[3988,88.8],[3993,77.3],[3998,90.9]
];
const bandHigh = [
[3001,67.1],[3003,64.9],[3006,62.7],[3008,68.4],[3011,66.2],[3013,64.1],[3016,70.1],[3018,61.9],[3021,66.6],[3023,67.8],[3026,65.5],[3028,63.5],[3031,69.1],[3033,60.1],[3036,65.9],[3038,70.9],[3041,64.6],[3043,67.4],[3046,62.4],[3048,66.8],
[3051,65.5],[3053,67.6],[3056,70.7],[3058,66.5],[3061,64.3],[3063,68.5],[3066,62.2],[3068,68.1],[3071,69.8],[3073,66.1],[3076,64.8],[3078,71.3],[3081,66.9],[3083,63.3],[3086,69.2],[3088,66.8],[3091,72.4],[3093,61.7],[3096,67.8],[3098,65.3],
[3101,68.2],[3103,66.1],[3106,70.9],[3108,67.1],[3111,69.3],[3113,64.4],[3116,72.6],[3118,67.6],[3121,69.1],[3123,63.0],[3126,70.1],[3128,66.6],[3131,68.6],[3133,71.5],[3136,65.2],[3138,67.4],[3141,69.7],[3143,61.9],[3146,73.6],[3148,65.7],
[3151,68.5],[3153,71.0],[3156,66.0],[3158,69.8],[3161,72.9],[3163,67.5],[3166,68.8],[3168,72.0],[3171,64.6],[3173,70.2],[3176,67.9],[3178,74.1],[3181,66.4],[3183,69.4],[3186,71.4],[3188,65.1],[3191,69.9],[3193,68.2],[3196,72.4],[3198,63.4],
[3201,71.3],[3203,69.1],[3206,66.9],[3208,72.6],[3211,70.4],[3213,68.3],[3216,74.3],[3218,66.1],[3221,70.8],[3223,72.0],[3226,69.7],[3228,67.7],[3231,73.3],[3233,64.3],[3236,70.1],[3238,75.1],[3241,68.8],[3243,71.6],[3246,66.6],[3248,71.0],
[3251,69.6],[3253,71.7],[3256,74.8],[3258,70.6],[3261,68.4],[3263,72.6],[3266,66.3],[3268,72.2],[3271,73.9],[3273,70.2],[3276,68.9],[3278,75.4],[3281,71.0],[3283,67.4],[3286,73.3],[3288,70.9],[3291,76.5],[3293,65.8],[3296,71.9],[3298,69.4],
[3301,72.4],[3303,70.3],[3306,75.1],[3308,71.3],[3311,73.5],[3313,68.6],[3316,76.8],[3318,71.8],[3321,73.3],[3323,67.2],[3326,74.3],[3328,70.8],[3331,72.8],[3333,75.7],[3336,69.4],[3338,71.6],[3341,73.9],[3343,66.1],[3346,77.8],[3348,69.9],
[3351,72.7],[3353,75.2],[3356,70.2],[3358,74.0],[3361,77.1],[3363,71.7],[3366,73.0],[3368,76.2],[3371,68.8],[3373,74.4],[3376,72.1],[3378,78.3],[3381,70.6],[3383,73.6],[3386,75.6],[3388,69.3],[3391,74.1],[3393,72.4],[3396,76.6],[3398,67.6],
[3401,75.4],[3403,73.2],[3406,71.0],[3408,76.7],[3411,74.5],[3413,72.4],[3416,78.4],[3418,70.2],[3421,74.9],[3423,76.1],[3426,73.8],[3428,71.8],[3431,77.4],[3433,68.4],[3436,74.2],[3438,79.2],[3441,72.9],[3443,75.7],[3446,70.7],[3448,75.1],
[3451,73.8],[3453,75.9],[3456,79.0],[3458,74.8],[3461,72.6],[3463,76.8],[3466,70.5],[3468,76.4],[3471,78.1],[3473,74.4],[3476,73.1],[3478,79.6],[3481,75.2],[3483,71.6],[3486,77.5],[3488,75.1],[3491,80.7],[3493,70.0],[3496,76.1],[3498,73.6],
[3501,76.5],[3503,74.4],[3506,79.2],[3508,75.4],[3511,77.6],[3513,72.7],[3516,80.9],[3518,75.9],[3521,77.4],[3523,71.3],[3526,78.4],[3528,74.9],[3531,76.9],[3533,79.8],[3536,73.5],[3538,75.7],[3541,78.0],[3543,70.2],[3546,81.9],[3548,74.0],
[3551,76.9],[3553,79.4],[3556,74.4],[3558,78.2],[3561,81.3],[3563,75.9],[3566,77.2],[3568,80.4],[3571,73.0],[3573,78.6],[3576,76.3],[3578,82.5],[3581,74.8],[3583,77.8],[3586,79.8],[3588,73.5],[3591,78.3],[3593,76.6],[3596,80.8],[3598,71.8],
[3601,80.0],[3604,77.1],[3607,74.2],[3610,81.7],[3613,78.8],[3616,76.1],[3619,83.9],[3622,73.2],[3625,79.3],[3628,80.9],[3631,78.0],[3634,75.2],[3637,82.6],[3640,70.8],[3643,78.5],[3646,84.9],
[3651,77.4],[3654,80.2],[3657,84.2],[3660,78.8],[3663,75.9],[3666,81.3],[3669,73.2],[3672,80.8],[3675,83.0],[3678,78.3],[3681,76.6],[3684,85.1],[3687,79.3],[3690,74.5],[3693,82.4],[3696,79.1],
[3701,80.7],[3704,78.0],[3707,84.3],[3710,79.4],[3713,82.3],[3716,75.8],[3719,86.5],[3722,80.1],[3725,81.9],[3728,73.9],[3731,83.3],[3734,78.7],[3737,81.3],[3740,85.2],[3743,76.8],[3746,79.7],
[3751,80.9],[3754,84.1],[3757,77.7],[3760,82.6],[3763,86.7],[3766,79.5],[3769,81.2],[3772,85.5],[3775,75.8],[3778,83.1],[3781,80.0],[3784,88.2],[3787,78.2],[3790,82.1],[3793,84.6],[3796,76.5],
[3801,84.2],[3804,81.3],[3807,78.4],[3810,85.9],[3813,83.0],[3816,80.3],[3819,88.1],[3822,77.4],[3825,83.5],[3828,85.1],[3831,82.2],[3834,79.4],[3837,86.8],[3840,75.0],[3843,82.7],[3846,89.1],
[3851,81.6],[3854,84.4],[3857,88.4],[3860,83.0],[3863,80.1],[3866,85.5],[3869,77.4],[3872,85.0],[3875,87.2],[3878,82.5],[3881,80.8],[3884,89.3],[3887,83.5],[3890,78.7],[3893,86.6],[3896,83.3],
[3901,84.8],[3904,82.1],[3907,88.4],[3910,83.5],[3913,86.4],[3916,79.9],[3919,90.6],[3922,84.2],[3925,86.0],[3928,78.0],[3931,87.4],[3934,82.8],[3937,85.4],[3940,89.3],[3943,80.9],[3946,83.8],
[3951,85.1],[3954,88.3],[3957,81.9],[3960,86.8],[3963,90.9],[3966,83.7],[3969,85.4],[3972,89.7],[3975,80.0],[3978,87.3],[3981,84.2],[3984,92.4],[3987,82.4],[3990,86.3],[3993,88.8],[3996,80.7],
[4002,88.5],[4006,85.3],[4010,82.0],[4014,90.4],[4018,87.2],[4022,84.1],[4026,92.9],[4030,80.9],[4034,87.7],[4038,89.5],[4042,86.2],[4046,83.2],
[4052,85.6],[4056,88.7],[4060,93.2],[4064,87.1],[4068,83.9],[4072,90.0],[4076,80.9],[4080,89.4],[4084,91.9],[4088,86.6],[4092,84.7],[4096,94.2],
[4102,89.1],[4106,86.0],[4110,93.1],[4114,87.6],[4118,90.8],[4122,83.6],[4126,95.5],[4130,88.3],[4134,90.4],[4138,81.5],[4142,91.9],[4146,86.8],
[4152,89.1],[4156,92.7],[4160,85.5],[4164,91.0],[4168,95.6],[4172,87.6],[4176,89.5],[4180,94.3],[4184,83.4],[4188,91.6],[4192,88.2],[4196,97.3],
[4202,92.7],[4206,89.5],[4210,86.2],[4214,94.6],[4218,91.4],[4222,88.3],[4226,97.1],[4230,85.1],[4234,91.9],[4238,93.7],[4242,90.4],[4246,87.4],
[4252,89.7],[4256,92.8],[4260,97.3],[4264,91.2],[4268,88.0],[4272,94.1],[4276,85.0],[4280,93.5],[4284,96.0],[4288,90.7],[4292,88.8],[4296,98.3]
];
const bandTop = [
[4725,98.3],[4769,97.0],[4698,95.8],[4725,94.5],[4738,97.5],[4651,97.5],[4627,97.3],[4563,96.8],[4532,98.0],[4484,98.0],[4500,97.3],[4437,97.3],[4429,96.5],[4381,95.8],[4373,95.3],[4334,98.0],[4318,97.3],[4342,94.3],[4365,92.8],[4405,92.5],[4453,91.5],[4481,90.2],[4563,89.7],[4595,91.2],[4587,92.5],[4563,94.0],[4619,93.8],[4674,93.0],[4706,92.8],[4516,93.0],[4468,94.0],[4429,94.0],[4405,91.2],[4358,90.5],[4326,89.7],[4365,88.2],[4429,89.2],[4389,87.7],[4690,96.3],[4548,95.5],[4579,95.3],[4603,95.8],
[4310,85.0],[4352,83.6],[4396,86.2],[4418,82.1],[4445,87.4],[4470,85.3],[4335,92.6],[4460,96.4],[4520,88.6],[4540,91.8],[4610,97.9],[4650,95.0],[4600,88.4],[4660,91.5],[4745,95.5],[4760,93.6],[4790,96.6],[4810,97.5],[4719,98.2],[4771,97.3],[4695,95.8],[4724,94.7]
];
// events above the band
const upperOutliers = [
[693,92.3],[574,89.4],[736,88.5],[802,88.8],[645,84.5],[759,82.2],[826,76.6],[655,75.1],[626,73.2],[337,72.0],[817,67.3],[517,64.7],[636,65.3],[774,63.5],[593,61.4],[631,59.7],[446,59.4],[874,56.2],[1007,54.7],[1073,52.9],[693,50.7],[888,50.9],[940,50.8],[1059,49.5],[1254,48.7],[759,46.8],[850,47.2],[1054,46.8],
[1284,85.1],[1546,86.0],[2164,86.7],[2457,94.7],[2395,84.0],[2428,78.7],[926,81.6],[1216,77.1],[1549,76.6],[2057,76.0],[1616,96.7],[1521,72.7],[1816,67.9],[2220,68.9],[1174,65.3],[1212,65.0],[1293,66.7],[1664,65.5],[2468,65.8],[2106,58.4],[2196,57.0],[2258,57.2],
[1397,51.7],[1601,56.1],[1554,50.9],[907,45.4],[998,45.7],[1212,46.2],[1264,45.4],[950,41.4],[907,39.1],[1149,41.4],[1259,41.7],[1345,41.8],[1221,40.2],[969,35.5],[802,39.5],
[2894,92.9],[2947,90.3],[3228,85.5],[2557,76.5],[2771,81.7],[2847,78.3],[3113,81.3],[3184,78.6],[3374,84.5],[2847,73.2],[2871,70.6],[2918,70.1],[2775,69.4],[2680,69.1],
[394,37.5],[607,32.0],[809,40.3],[729,30.4],[793,30.5],[560,22.5],[714,25.2],[888,29.7],[928,29.7],[991,31.0],[1273,36.8],[1205,34.0],[1165,32.7],[1155,34.1],[508,20.3],[3822,95.9],[4058,97.6],[3584,90.0],[3617,90.0]
];
// events below the band
const lowerOutliers = [
[3566,63.9],[3709,63.1],[3766,63.2],[3814,62.8],[3881,63.0],[3948,62.3],[3972,62.8],[4020,61.8],[4075,60.7],[4200,62.7],[4453,62.0],[4597,63.8],[4826,62.4],[4896,61.5],[4851,60.3],[4965,62.6],
[3279,59.3],[3394,59.1],[3442,57.7],[3505,59.3],[3270,56.8],[3279,56.3],[3403,55.6],[3293,54.3],[3342,54.7],[3338,54.1],
[4177,57.2],[4192,55.8],[4253,56.7],[4266,56.0],[4377,56.1],[4578,56.0],[4707,57.2],[4759,55.8],[4816,55.5],[4902,55.6],[4915,57.6],[4940,58.2],[4893,54.3],
[3648,53.6],[3791,53.6],[3885,52.2],[3948,51.4],[4112,52.1],[4180,53.3],[4448,52.2],[4505,50.5],[4444,48.5],[4564,53.3],
[3365,51.7],[3304,50.0],[3337,49.9],[3432,50.1],[2989,51.1],[3075,50.4],[2903,48.6],
[4826,51.6],[4851,51.4],[4906,50.5],[4858,47.3],[4944,47.6],
[3184,48.1],[3209,46.8],[3495,46.2],[3560,46.6],[3610,46.5],[3780,47.8],[3808,46.9],[3848,45.4],[4068,45.9],[4075,45.4],[4194,44.8],
[2869,45.4],[2903,44.2],[3247,43.9],[3289,44.9],[3297,44.4],[3346,44.4],
[2978,42.8],[3060,41.4],[3127,41.4],[3193,40.9],[3371,40.6],[3371,39.6],[3505,42.1],[3571,40.8],[3741,43.4],[3780,41.3],[3780,40.3],[3741,38.7],[3846,42.5],[3885,39.6],[3934,40.5],[4014,42.3],[4068,43.3],[4075,42.0],[4110,40.8],[4243,41.2],[4377,40.8],[4587,42.8],[4826,42.4],
[2754,38.6],[2959,38.7],[2945,37.1],[2989,39.7],[3136,39.0],[3161,36.6],[3132,35.5],[3369,37.0],[3442,37.6],[3371,34.0],[3375,32.7],[3384,32.1],[3495,31.8],[3610,32.3],[4253,37.7],[4266,37.2],[4301,37.2],[4192,35.1],[4305,34.3],[4539,37.0],[4593,34.7],[4568,33.4],[4597,33.2],[4635,31.8],[4721,38.7],[4707,31.5],[4749,29.6],[4860,37.0],[4908,37.2],[4887,28.8],[4997,36.2],
[2682,34.2],[2745,34.1],[2802,33.7],[2779,31.7],[2802,30.7],[2869,31.2],[2926,33.0],[2984,32.6],[2984,31.0],[3090,33.0],[3161,32.0],[3279,32.7],[3295,29.7],[3304,28.1],[3365,29.6],[3436,30.7],[3560,30.0],[3781,34.5],[3791,33.9],[3948,28.2],[3972,28.9],[4180,31.5],[4301,30.1],[4310,29.5],[4335,28.8],
[2535,27.9],[2560,32.9],[2611,31.1],[2684,25.2],[2684,24.3],[2684,22.8],[2751,24.3],[2741,22.9],[2777,29.2],[2312,31.6],[2060,31.2],[2128,34.0],[2210,33.0],[2187,33.5],
[2382,29.5],[2373,28.4],[2401,26.5],[2420,25.9],[2382,24.9],[2411,24.1],[2287,27.9],[2268,25.7],[2086,26.7],[2138,27.7],[2153,26.4],[2086,25.2],[2249,24.7],
[2535,21.4],[2583,20.9],[2554,19.5],[2573,19.1],[2554,18.4],[2430,20.9],[2459,20.2],[2478,19.7],[2407,17.7],
[2191,22.9],[2163,20.9],[2182,20.8],[2134,18.2],[2153,16.7],[2220,18.2],[2029,19.9],
[2907,24.2],[2926,24.2],[2984,24.2],[2898,22.7],[2846,20.2],[2907,20.4],[2917,19.5],[2980,20.5],[3060,20.9],[3069,26.7],[3188,25.2],[3337,25.9],[3390,26.0],[3342,25.0],[3251,20.9],[3266,20.2],[3289,19.3],[3312,18.8],[3298,17.4],[3276,17.3],[3338,18.0],[3390,18.2],[3088,18.4],[3117,18.7],[3027,17.3],[3037,15.8],[3127,16.1],
[3522,24.4],[3547,23.2],[3507,20.2],[3518,18.2],[3642,25.7],[3741,25.9],[3766,24.4],[3814,21.2],[3772,19.7],[3785,18.0],[3724,18.4],[3875,20.9],[3852,16.7],[3877,17.5],[3963,25.4],[3957,28.4],[3980,25.0],[4053,24.7],[4075,25.3],[4020,22.2],[4014,20.5],[4200,24.7],[4247,24.6],[4266,22.9],[4259,21.4],[4272,20.7],[4268,18.7],[4431,18.8],[4536,21.8],[4597,19.4],[4641,23.2],[4692,24.0],[4352,16.9],[4329,15.2],[4373,13.9],[4339,12.8],[4478,14.2],[4507,16.0],[4558,15.9],[4572,16.7],[4673,16.1],[4679,13.5],[3980,16.7],[3967,13.9],[4058,13.7],[4072,14.0],[4129,15.4],[3709,15.4],
[2856,16.7],[2850,15.2],[2764,14.1],[2802,11.9],[2827,11.9],[2812,10.9],[2850,11.1],[2808,9.6],[2831,9.9],[2802,8.9],[2869,7.9],[2926,10.4],[2907,9.4],
[3193,14.6],[3235,14.1],[3289,13.4],[3319,15.3],[3171,12.4],[3136,11.6],[3088,11.6],[3060,11.6],[3171,10.9],[3136,10.3],[3193,10.5],[3365,12.1],[3403,11.6],[3304,9.6],[3342,8.9],[3251,8.4],[3193,7.5],[3136,6.4],[3088,5.1],[3279,6.4],
[2535,14.6],[2554,14.1],[2602,12.9],[2678,12.4],[2688,14.4],[2554,11.4],[2567,10.1],[2611,11.4],[2611,9.1],[2583,8.4],[2506,7.4],[2554,7.0],[2630,6.6],[2678,7.1],[2735,6.8],[2773,6.8],[2478,7.1],
[2334,13.9],[2334,13.4],[2258,15.4],[2229,13.6],[2210,12.1],[2220,10.9],[2249,9.9],[2201,9.9],[2268,10.5],[2373,9.9],[2411,9.9],[2401,8.4],[2430,8.1],[2277,8.5],[2249,6.6],[2134,8.1],[2105,9.1],[2077,9.6],[2086,8.9],[2067,11.9],[2029,10.4],[2048,5.6],[2124,14.4],
[3571,14.8],[3581,11.5],[3619,11.8],[3495,7.9],[3547,7.4],[3528,6.9],[3560,7.0],[3741,7.1],[3810,6.9],[3843,8.0],[3909,5.9],[3881,11.9],[3890,9.7],[3967,11.9],[3972,10.6],[3991,10.8],[4020,8.3],[4058,8.4],[4144,8.3],[4278,9.6],[4431,10.4],[4564,11.6],[4564,9.4],[4587,8.6],[4578,8.1],[4593,7.9],[4673,9.6],[4673,8.3],[4946,13.9],[4959,9.1],[4997,23.7],[4997,62.7],
[246,6.9],[346,6.5],[357,7.4],[489,7.8],[576,8.4],[631,9.0],[666,9.1],[592,6.4],[737,7.0],[729,5.4],[626,11.5],[809,9.1],[850,11.1],[893,9.4],[935,9.8],[935,6.9],[996,5.8],[1035,7.4],[1101,6.6],[1059,10.4],[1109,9.6],[999,13.4],[1038,15.6],[1030,14.1],[1078,15.5],[1165,15.1],[1201,12.4],[1205,19.9],[1257,21.7],[1300,14.1],[1339,16.5],[1371,16.7],[1418,16.8],[1328,11.6],[1303,11.0],[1347,7.1],[1334,6.7],[1241,8.4],[1257,7.1],[1197,7.6],[1384,13.9],[1402,14.9],[1442,12.6],[1398,9.4],[1439,10.1],[1474,9.4],[1482,8.1],[1513,11.6],[1534,11.4],[1529,6.9],[1561,11.4],[1600,9.9],[1600,7.4],[1656,7.4],[1696,7.4],[1619,13.4],[1672,13.4],[1700,13.4],[1771,12.5],[1862,12.5],[1822,7.9],[1849,7.6],[1886,7.0],[1954,6.5],[1957,8.6],[1996,7.4],[1529,18.4],[1553,16.9],[1597,16.9],[1624,20.9],[1624,19.7],[1629,15.5],[1645,18.2],[1732,26.7],[1799,23.4],[1811,24.2],[1870,24.2],[1873,22.7],[1791,20.4],[1799,18.2],[1846,17.9],[1886,17.9],[1889,16.7],[1902,16.4],[1949,20.4],[1957,18.7],[1949,24.4],[2001,27.3],[1949,26.9],[1996,20.9],[2020,19.4],[2020,17.4],[2012,14.4],[1949,13.6],[1965,13.1],[1996,12.4],[2020,10.1],[1902,30.2],[1870,31.7],[1807,28.7],[1743,32.2],[1807,33.0],[1423,20.2],[1442,18.7],
[4877,97.9],[4959,98.1],[4951,96.7],[4864,91.4],[4943,91.4],[4883,85.7],[4991,85.9],[4568,82.9],[4531,79.5],[4563,78.8],[4693,79.9],[4278,80.7],[4270,76.8],[4349,77.1],[4793,76.6],[4653,74.3],[3942,71.9],[3882,70.6],[3977,70.2],[4016,68.6],[4069,66.9],[4262,67.9],[4254,67.2],[4341,66.5],[4433,71.0],[4568,71.0],[4861,70.2],[4907,70.7],[4634,67.4],[4302,64.6],[4595,64.0],[3784,67.6],[3847,64.5],[4816,62.9],[4967,63.0],[4690,88.8],[4682,88.5],
[3969,74.3],[3874,67.0],[3568,64.3],[4270,71.4],[4088,80.8],[4088,79.7],[3502,59.4],[3514,66.2],[3600,69.2],[3378,67.1]
];

// ---- chart ----
const W = 1318, H = 845;
const mL = 173, mR = 93, mT = 13, mB = 119;
const plotW = W - mL - mR, plotH = H - mT - mB;
const xDomain = [0, 5000], yDomain = [0, 107.4];

const events = [...bandLow, ...bandMid, ...bandSpread, ...bandHigh, ...bandTop, ...upperOutliers, ...lowerOutliers]
  .map(([x, y]) => ({x, y}));
const lineAt = (off, x) => ({x, y: fit.intercept + off + fit.slope * x});
const fitLine = xDomain.map(x => lineAt(0, x));
const upperLine = xDomain.map(x => lineAt(fit.halfWidth, x));
const lowerStart = (fit.halfWidth - fit.intercept) / fit.slope;
const lowerLine = [lowerStart, xDomain[1]].map(x => lineAt(-fit.halfWidth, x));

const xMinor = d3.range(0, 5001, 200).filter(v => v % 1000 !== 0);
const yMinor = d3.range(5, 107, 5).filter(v => v % 20 !== 0);
const yMajorAll = [0, ...yTickValues];

const tickStyle = {stroke: "black", strokeWidth: 2};
const xLabelStyle = {tickSize: 0, tickPadding: 5, fontSize: 60, fontWeight: "bold",
  fontFamily: "'DejaVu Sans Condensed','DejaVu Sans',sans-serif", label: null, tickFormat: d => String(d)};

const plot = Plot.plot({
  width: W, height: H,
  marginLeft: mL, marginRight: mR, marginTop: mT, marginBottom: mB,
  x: {domain: xDomain},
  y: {domain: yDomain},
  style: {background: "white", color: "black"},
  marks: [
    Plot.dot(events, {x: "x", y: "y", r: 3.5, fill: "black", stroke: "none", clip: true}),
    Plot.line(upperLine, {x: "x", y: "y", stroke: "#0a0ae0", strokeWidth: 4, strokeDasharray: "48,14", clip: true}),
    Plot.line(lowerLine, {x: "x", y: "y", stroke: "#0a0ae0", strokeWidth: 4, strokeDasharray: "48,14", clip: true}),
    Plot.line(fitLine, {x: "x", y: "y", stroke: "#d20000", strokeWidth: 4, clip: true}),
    Plot.ruleX(xTickValues, {x: d => d, insetTop: plotH - 22, ...tickStyle}),
    Plot.ruleX(xMinor, {x: d => d, insetTop: plotH - 11, ...tickStyle}),
    Plot.ruleX(xTickValues, {x: d => d, insetBottom: plotH - 21, ...tickStyle}),
    Plot.ruleX(xMinor, {x: d => d, insetBottom: plotH - 10, ...tickStyle}),
    Plot.ruleY(yMajorAll, {y: d => d, insetRight: plotW - 32, ...tickStyle}),
    Plot.ruleY(yMinor, {y: d => d, insetRight: plotW - 17, ...tickStyle}),
    Plot.ruleY(yMajorAll, {y: d => d, insetLeft: plotW - 33, ...tickStyle}),
    Plot.ruleY(yMinor, {y: d => d, insetLeft: plotW - 17, ...tickStyle}),
    Plot.frame({stroke: "#111", strokeWidth: 2.6}),
    Plot.axisY(yTickValues, {tickSize: 0, tickPadding: 5, fontSize: 62, fontWeight: "bold",
      fontFamily: "'DejaVu Sans',sans-serif", label: null, tickFormat: d => String(d)}),
    Plot.axisX(xTickValues.slice(2), xLabelStyle),
    Plot.axisX(xTickValues.slice(0, 1), {...xLabelStyle, dx: -20}),
    Plot.axisX(xTickValues.slice(1, 2), {...xLabelStyle, dx: 15, dy: 3})
  ]
});

document.getElementById("chart").appendChild(plot);

// ---- text overlays (annotations and axis titles) ----
const svg = d3.select(plot);
const sx = plot.scale("x"), sy = plot.scale("y");
const annX = sx.apply(1363);
const annFont = "'Liberation Sans',Arial,sans-serif";
const ann = svg.append("g").attr("font-family", annFont).attr("font-weight", "bold")
  .attr("font-size", 40).attr("text-anchor", "middle").attr("fill", "black");
ann.append("text").attr("x", annX).attr("y", sy.apply(96.7)).text(annotationText[0]);
const am = ann.append("text").attr("x", annX).attr("y", sy.apply(86.9));
am.append("tspan").attr("font-weight", "normal").attr("font-size", 26).attr("dy", -23).text(annotationText[1]);
am.append("tspan").attr("font-size", 42).attr("dy", 23).text(annotationText[2]);
am.append("tspan").attr("font-weight", "normal").attr("font-size", 40).text(annotationText[3]);
ann.append("text").attr("x", annX).attr("y", sy.apply(77.5)).text(annotationText[4]);
ann.append("text").attr("x", annX).attr("y", sy.apply(68.1)).text(annotationText[5]);
ann.append("text").attr("x", annX).attr("y", sy.apply(58.2)).text(annotationText[6]);

const condFont = "'DejaVu Sans Condensed','DejaVu Sans',sans-serif";
const yt = svg.append("text").attr("transform", "translate(53,499) rotate(-90)")
  .attr("text-anchor", "start")
  .attr("font-family", condFont).attr("font-weight", "bold").attr("fill", "black");
yt.append("tspan").attr("font-family", "'DejaVu Sans',sans-serif").attr("font-size", 50).text(yTitle[0]);
yt.append("tspan").attr("font-size", 28).attr("dy", 12).text(yTitle[1]);
yt.append("tspan").attr("font-size", 46).attr("dy", -12).attr("dx", 28).text(yTitle[2]);

const xt = svg.append("text").attr("x", 628).attr("y", 830).attr("text-anchor", "start")
  .attr("font-family", condFont).attr("font-weight", "bold").attr("fill", "black");
xt.append("tspan").attr("font-family", "'DejaVu Sans',sans-serif").attr("font-size", 48).text(xTitle[0]);
xt.append("tspan").attr("font-size", 29).attr("dy", 7).text(xTitle[1]);
xt.append("tspan").attr("font-size", 44).attr("dy", -7).attr("dx", 12).text(xTitle[2]);

svg.append("text").attr("x", 1).attr("y", 834).attr("text-anchor", "start")
  .attr("font-family", "Lato,'Open Sans',sans-serif")
  .attr("font-size", 43).attr("fill", "black").text(slideText);
</script>
</body></html>
